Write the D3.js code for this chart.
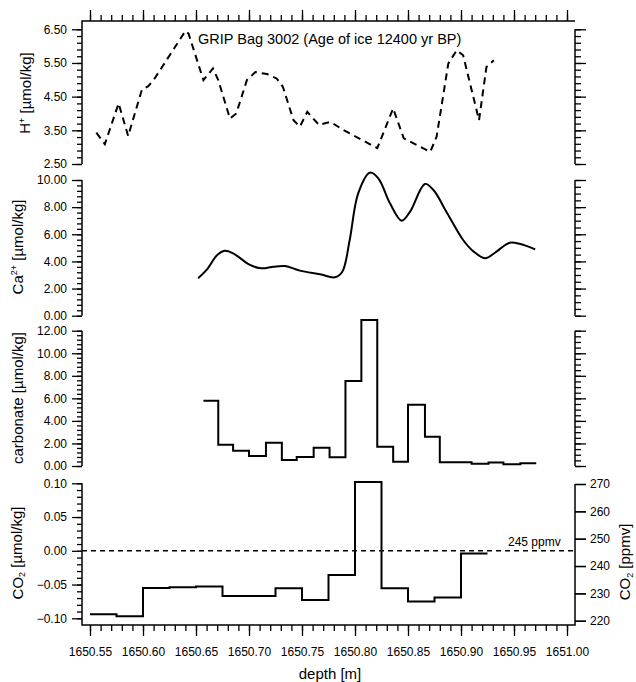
<!DOCTYPE html>
<html>
<head>
<meta charset="utf-8">
<script src="https://cdn.jsdelivr.net/npm/d3@7"></script>
<style>
body { margin: 0; background: #fff; }
svg { display: block; font-family: "Liberation Sans", Arial, Helvetica, sans-serif; }
</style>
</head>
<body>
<div id="chart"></div>
<script>
// depth ticks (m)
const depthTicks = [1650.55, 1650.60, 1650.65, 1650.70, 1650.75, 1650.80, 1650.85, 1650.90, 1650.95, 1651.00];

// H+ (dashed curve)
const hDepth = [1650.556, 1650.564, 1650.577, 1650.586, 1650.599, 1650.605, 1650.611, 1650.640, 1650.643, 1650.657,
  1650.666, 1650.671, 1650.682, 1650.688, 1650.698, 1650.706, 1650.717, 1650.726, 1650.732, 1650.742,
  1650.748, 1650.755, 1650.766, 1650.777, 1650.789, 1650.821, 1650.836, 1650.846, 1650.871, 1650.877,
  1650.888, 1650.896, 1650.902, 1650.917, 1650.924, 1650.931];
const hValues = [3.43, 3.09, 4.30, 3.33, 4.71, 4.81, 5.04, 6.45, 6.37, 4.99,
  5.34, 4.99, 3.85, 4.00, 4.99, 5.23, 5.17, 5.04, 4.79, 3.80,
  3.61, 4.05, 3.66, 3.75, 3.51, 2.97, 4.15, 3.26, 2.86, 3.31,
  5.48, 5.88, 5.73, 3.80, 5.38, 5.58];
const hTicks = [2.5, 3.5, 4.5, 5.5, 6.5];

// Ca2+ (smooth curve)
const caDepth = [1650.652, 1650.660, 1650.670, 1650.677, 1650.685, 1650.701, 1650.712, 1650.723, 1650.734, 1650.748,
  1650.767, 1650.781, 1650.788, 1650.795, 1650.803, 1650.814, 1650.822, 1650.833, 1650.844, 1650.852,
  1650.866, 1650.874, 1650.887, 1650.902, 1650.912, 1650.923, 1650.932, 1650.946, 1650.956, 1650.970];
const caValues = [2.76, 3.37, 4.47, 4.79, 4.60, 3.74, 3.49, 3.61, 3.66, 3.32,
  3.05, 2.83, 3.24, 5.58, 9.02, 10.54, 10.12, 8.28, 7.00, 7.67,
  9.71, 9.26, 7.55, 5.58, 4.72, 4.23, 4.64, 5.38, 5.28, 4.89];
const caTicks = [0, 2, 4, 6, 8, 10];

// carbonate (steps: bin edges + values)
const carbEdges = [1650.657, 1650.671, 1650.685, 1650.700, 1650.716, 1650.731, 1650.745, 1650.761, 1650.776, 1650.791,
  1650.806, 1650.821, 1650.836, 1650.850, 1650.866, 1650.880, 1650.895, 1650.910, 1650.926, 1650.940,
  1650.956, 1650.971];
const carbValues = [5.79, 1.89, 1.36, 0.89, 2.07, 0.53, 0.80, 1.62, 0.77, 7.54,
  12.94, 1.71, 0.38, 5.43, 2.60, 0.33, 0.33, 0.21, 0.30, 0.15,
  0.24];
const carbTicks = [0, 2, 4, 6, 8, 10, 12];

// CO2 (steps)
const co2Edges = [1650.550, 1650.575, 1650.600, 1650.625, 1650.650, 1650.675, 1650.700, 1650.725, 1650.750, 1650.775,
  1650.800, 1650.825, 1650.850, 1650.875, 1650.900, 1650.925];
const co2Values = [-0.094, -0.097, -0.055, -0.054, -0.053, -0.067, -0.067, -0.0555, -0.073, -0.036,
  0.102, -0.0555, -0.075, -0.069, -0.004];
const co2Ticks = [-0.10, -0.05, 0.00, 0.05, 0.10];
const ppmTicks = [220, 230, 240, 250, 260, 270];

const width = 636, height = 682,
  left = 82, right = 575;

const svg = d3.select("#chart")
  .append("svg")
  .attr("width", width)
  .attr("height", height);

let x = d3.scaleLinear([1650.55, 1651.00], [90, 567]);
let hY = d3.scaleLinear([2.5, 6.5], [164, 29.3]);
let caY = d3.scaleLinear([0, 10], [315.7, 180]);
let carbY = d3.scaleLinear([0, 12], [466, 330.7]);
let co2Y = d3.scaleLinear([-0.1, 0.1], [618.3, 483.3]);
let ppmY = d3.scaleLinear([220, 270], [620.7, 484]);

const steps = (a, b, s) => d3.range(Math.round((b - a) / s) + 1).map(i => +(a + i * s).toFixed(4));

// major + minor ticks, no domain path
function addAxis(axisFn, scale, major, minor, pos, big, small, fmt, pad) {
  const g = svg.append("g").attr("transform", pos);
  g.append("g")
    .call(axisFn(scale).tickValues(minor).tickSize(small).tickFormat(""));
  g.append("g")
    .call(axisFn(scale).tickValues(major).tickSize(big).tickPadding(pad || 4).tickFormat(fmt || (() => "")));
  g.selectAll(".domain").remove();
  g.selectAll("line").attr("stroke", "#000").attr("stroke-width", 1.3);
  g.selectAll("text").attr("font-size", 12).attr("fill", "#000")
    .attr("font-family", "'Liberation Sans', Arial, sans-serif");
  return g;
}

const f2 = d3.format(".2f");

// left axes
addAxis(d3.axisLeft, hY, hTicks, steps(2.5, 6.5, 0.2), `translate(${left},0)`, 10, 5, f2, 5);
addAxis(d3.axisLeft, caY, caTicks, steps(0, 10, 0.4), `translate(${left},0)`, 10, 5, f2, 5);
addAxis(d3.axisLeft, carbY, carbTicks, steps(0, 12, 0.4), `translate(${left},0)`, 10, 5, f2, 5);
addAxis(d3.axisLeft, co2Y, co2Ticks, steps(-0.1, 0.1, 0.01), `translate(${left},0)`, 10, 5, f2, 5);

// right axes
addAxis(d3.axisRight, hY, hTicks, steps(2.5, 6.5, 0.2), `translate(${right},0)`, 11, 6);
addAxis(d3.axisRight, caY, caTicks, steps(0, 10, 0.5), `translate(${right},0)`, 11, 6);
addAxis(d3.axisRight, carbY, carbTicks, steps(0, 12, 0.5), `translate(${right},0)`, 11, 6);
addAxis(d3.axisRight, ppmY, ppmTicks, ppmTicks, `translate(${right},0)`, 11, 11, d3.format("d"), 4);

// top and bottom depth axes
const depthMinor = steps(1650.55, 1651.00, 0.01);
addAxis(d3.axisTop, x, depthTicks, depthMinor, `translate(0,21)`, 11, 6);
addAxis(d3.axisBottom, x, depthTicks, depthMinor, `translate(0,625)`, 11, 6, f2, 11);

// axis lines / frame
const frame = [
  [[left, 164], [left, 21], [right, 21]],
  [[right, hY(6.5)], [right, hY(2.5)]],
  [[left, caY(10)], [left, caY(0)]],
  [[right, caY(10)], [right, caY(0)]],
  [[left, carbY(12)], [left, carbY(0)]],
  [[right, carbY(12)], [right, carbY(0)]],
  [[left, co2Y(0.1)], [left, 625], [right, 625], [right, ppmY(270)]]
];
svg.append("g")
  .selectAll("path")
  .data(frame)
  .join("path")
  .attr("d", d3.line())
  .attr("fill", "none")
  .attr("stroke", "#000")
  .attr("stroke-width", 1.5);

// 0.00 / 245 ppmv reference
svg.append("line")
  .attr("x1", left).attr("x2", right)
  .attr("y1", co2Y(0)).attr("y2", co2Y(0))
  .attr("stroke", "#000")
  .attr("stroke-width", 1.4)
  .attr("stroke-dasharray", "5,4");

svg.append("text")
  .attr("x", 508).attr("y", 546)
  .attr("font-size", 12)
  .text("245 ppmv");

// H+ dashed line
const hData = hDepth.map((d, i) => ({depth: d, v: hValues[i]}));
svg.append("path")
  .datum(hData)
  .attr("d", d3.line().x(d => x(d.depth)).y(d => hY(d.v)))
  .attr("fill", "none")
  .attr("stroke", "#000")
  .attr("stroke-width", 2)
  .attr("stroke-dasharray", "7,5");

// Ca2+ smooth line
const caData = caDepth.map((d, i) => ({depth: d, v: caValues[i]}));
svg.append("path")
  .datum(caData)
  .attr("d", d3.line().curve(d3.curveCatmullRom.alpha(0.5)).x(d => x(d.depth)).y(d => caY(d.v)))
  .attr("fill", "none")
  .attr("stroke", "#000")
  .attr("stroke-width", 2);

// step lines
const stepData = (edges, vals) => edges.map((e, i) => ({depth: e, v: vals[Math.min(i, vals.length - 1)]}));

svg.append("path")
  .datum(stepData(carbEdges, carbValues))
  .attr("d", d3.line().curve(d3.curveStepAfter).x(d => x(d.depth)).y(d => carbY(d.v)))
  .attr("fill", "none")
  .attr("stroke", "#000")
  .attr("stroke-width", 2);

svg.append("path")
  .datum(stepData(co2Edges, co2Values))
  .attr("d", d3.line().curve(d3.curveStepAfter).x(d => x(d.depth)).y(d => co2Y(d.v)))
  .attr("fill", "none")
  .attr("stroke", "#000")
  .attr("stroke-width", 2);

// title
svg.append("text")
  .attr("x", 198).attr("y", 43.5)
  .attr("font-size", 14.5)
  .text("GRIP Bag 3002 (Age of ice 12400 yr BP)");

// axis titles
function yTitle(xPos, yPos, parts) {
  const t = svg.append("text")
    .attr("transform", `translate(${xPos},${yPos}) rotate(-90)`)
    .attr("text-anchor", "middle")
    .attr("font-size", 15);
  parts.forEach(p => {
    t.append("tspan")
      .attr("font-size", p.size || 15)
      .attr("dy", p.dy || 0)
      .text(p.t);
  });
}

yTitle(30, 93, [{t: "H"}, {t: "+", size: 9, dy: "-0.6em"}, {t: " [µmol/kg]", dy: "0.4em"}]);
yTitle(22.5, 247, [{t: "Ca"}, {t: "2+", size: 9, dy: "-0.6em"}, {t: " [µmol/kg]", dy: "0.4em"}]);
yTitle(22.5, 398, [{t: "carbonate [µmol/kg]"}]);
yTitle(22.5, 553, [{t: "CO"}, {t: "2", size: 9, dy: "0.3em"}, {t: " [µmol/kg]", dy: "-0.2em"}]);
yTitle(630, 562, [{t: "CO"}, {t: "2", size: 9, dy: "0.3em"}, {t: " [ppmv]", dy: "-0.2em"}]);

svg.append("text")
  .attr("x", 330).attr("y", 679)
  .attr("text-anchor", "middle")
  .attr("font-size", 15)
  .text("depth [m]");
</script>
</body>
</html>
